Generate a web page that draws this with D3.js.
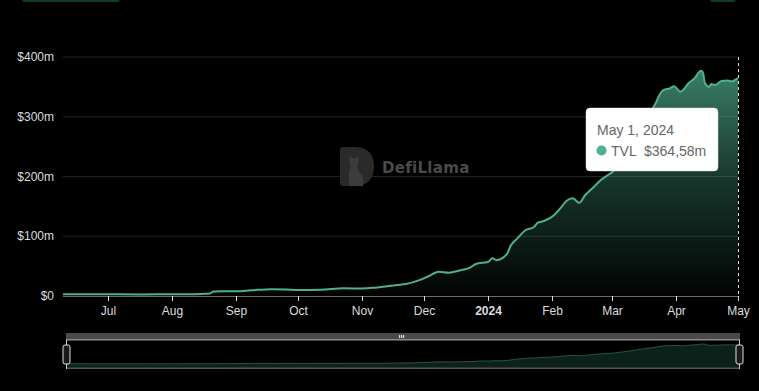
<!DOCTYPE html>
<html><head><meta charset="utf-8">
<script src="https://cdn.jsdelivr.net/npm/d3@7"></script>
<style>
html,body{margin:0;padding:0;background:#000;}
svg{display:block;font-family:"Liberation Sans",Arial,Helvetica,sans-serif;}
</style></head>
<body><svg id="c" width="759" height="391"></svg>
<script>
// ---- data ----
const dates = ["2023-06-09","2023-07-01","2023-07-17","2023-08-01","2023-08-15","2023-08-19","2023-08-21","2023-08-26","2023-09-01","2023-09-08","2023-09-18","2023-09-25","2023-10-01","2023-10-12","2023-10-23","2023-11-01","2023-11-07","2023-11-11","2023-11-18","2023-11-22","2023-11-29","2023-12-03","2023-12-08","2023-12-13","2023-12-15","2023-12-19","2023-12-23","2023-12-26","2024-01-01","2024-01-03","2024-01-05","2024-01-10","2024-01-12","2024-01-15","2024-01-19","2024-01-23","2024-01-25","2024-01-28","2024-02-02","2024-02-05","2024-02-08","2024-02-11","2024-02-14","2024-02-17","2024-02-21","2024-02-24","2024-02-28","2024-03-01","2024-03-05","2024-03-10","2024-03-15","2024-03-19","2024-03-22","2024-03-24","2024-03-26","2024-03-29","2024-03-31","2024-04-03","2024-04-04","2024-04-07","2024-04-10","2024-04-13","2024-04-14","2024-04-15","2024-04-17","2024-04-18","2024-04-20","2024-04-23","2024-04-26","2024-04-28","2024-04-30","2024-05-01"];
const tvl = [3,2.8,2.7,2.8,3.5,4,7.5,8,8,9.5,11.5,11,10,10.5,13,12.5,14,15.5,18.4,20,27,33,40.7,39,40,43.5,47,53.6,57.4,63,60,70,85,96,110,115,122.7,125.5,135.6,147,159.5,163.5,156,169,182,192.5,202.5,207,228,255,285,305,322,337,345,347.6,351,342,343.6,356,364.5,377,374,356,350,355,353,360,360.5,359,362.6,364.58];
const yTicks = [0,100,200,300,400];
const yTickLabels = ["$0","$100m","$200m","$300m","$400m"];
const xTickDates = ["2023-07-01","2023-08-01","2023-09-01","2023-10-01","2023-11-01","2023-12-01","2024-01-01","2024-02-01","2024-03-01","2024-04-01","2024-05-01"];
const xTickLabels = ["Jul","Aug","Sep","Oct","Nov","Dec","2024","Feb","Mar","Apr","May"];
const tooltipDate = "May 1, 2024";
const tooltipSeries = "TVL";
const tooltipValue = "$364,58m";

const parse = d3.utcParse("%Y-%m-%d");
const data = dates.map((d,i)=>({date:parse(d), v:tvl[i]}));

const svg = d3.select("#c");
const LINE = "#4fb08e";

// top cut-off buttons
svg.append("rect").attr("x",22).attr("y",-6).attr("width",98).attr("height",8).attr("rx",3).attr("fill","#0f3a2c");
svg.append("rect").attr("x",710).attr("y",-6).attr("width",26).attr("height",8).attr("rx",3).attr("fill","#0f3a2c");

const x = d3.scaleUtc().domain([parse("2023-06-09"), parse("2024-05-01")]).range([63,738]);
const y = d3.scaleLinear().domain([0,400]).range([296,57]);

// gridlines
svg.append("g").selectAll("line").data(yTicks.slice(1)).join("line")
  .attr("x1",63).attr("x2",738).attr("y1",d=>y(d)).attr("y2",d=>y(d))
  .attr("stroke","#222").attr("stroke-width",1);

// y labels
svg.append("g").selectAll("text").data(yTicks).join("text")
  .attr("x",54).attr("y",d=>y(d)).attr("dy","0.35em").attr("text-anchor","end")
  .attr("fill","#dcdcdc").attr("font-size",12).text((d,i)=>yTickLabels[i]);

// watermark
const wm = svg.append("g").attr("opacity",1);
wm.append("path").attr("d","M340,150 Q340,147 343,147 L354,147 Q374,147 374,166.5 Q374,186 354,186 L343,186 Q340,186 340,183 Z").attr("fill","#2a2a2a");
wm.append("path").attr("d","M349,186 L349,172 L351,166 L349,160 L350,155 L352,158 L356,158 L358,155 L359,160 L357,166 L359,172 L363,176 L363,186 Z").attr("fill","#3c3c3c");
wm.append("text").attr("x",382).attr("y",173).attr("font-size",15).attr("font-weight","bold")
  .attr("fill","#4a4a4a").attr("font-family","'DejaVu Sans',sans-serif").attr("letter-spacing","0.3").text("DefiLlama");

// gradient
const defs = svg.append("defs");
const g = defs.append("linearGradient").attr("id","ag").attr("gradientUnits","userSpaceOnUse")
  .attr("x1",0).attr("x2",0).attr("y1",y(380)).attr("y2",y(0));
g.append("stop").attr("offset","0").attr("stop-color",LINE).attr("stop-opacity",0.72);
g.append("stop").attr("offset","0.5").attr("stop-color",LINE).attr("stop-opacity",0.3);
g.append("stop").attr("offset","1").attr("stop-color",LINE).attr("stop-opacity",0.02);

const area = d3.area().x(d=>x(d.date)).y0(y(0)).y1(d=>y(d.v)).curve(d3.curveMonotoneX);
const line = d3.line().x(d=>x(d.date)).y(d=>y(d.v)).curve(d3.curveMonotoneX);
svg.append("path").datum(data).attr("d",area).attr("fill","url(#ag)");
svg.append("path").datum(data).attr("d",line).attr("fill","none").attr("stroke",LINE).attr("stroke-width",2);

// x axis
svg.append("line").attr("x1",63).attr("x2",738).attr("y1",296.5).attr("y2",296.5).attr("stroke","#6a6a6a");
const xt = svg.append("g").selectAll("g").data(xTickDates).join("g")
  .attr("transform",d=>`translate(${Math.round(x(parse(d)))+0.5},296)`);
xt.append("line").attr("y1",0).attr("y2",5).attr("stroke","#ddd");
xt.append("text").attr("y",15).attr("dy","0.35em").attr("text-anchor","middle")
  .attr("fill","#dcdcdc").attr("font-size",12)
  .attr("font-weight",(d,i)=>xTickLabels[i]==="2024"?"bold":"normal")
  .text((d,i)=>xTickLabels[i]);

// crosshair
svg.append("line").attr("x1",738.5).attr("x2",738.5).attr("y1",57).attr("y2",296)
  .attr("stroke","#ddd").attr("stroke-dasharray","3,3");

// tooltip
const tt = svg.append("g");
tt.append("rect").attr("x",586).attr("y",108).attr("width",132).attr("height",63).attr("rx",4)
  .attr("fill","#fff").attr("stroke","#ddd").attr("stroke-width",0.5);
tt.append("text").attr("x",597).attr("y",135).attr("font-size",14).attr("fill","#666").text(tooltipDate);
tt.append("circle").attr("cx",601.5).attr("cy",150.5).attr("r",5).attr("fill",LINE);
tt.append("text").attr("x",611).attr("y",155.5).attr("font-size",14).attr("fill","#666").text(tooltipSeries);
tt.append("text").attr("x",644).attr("y",155.5).attr("font-size",14).attr("fill","#666").text(tooltipValue);

// data zoom
const mx = d3.scaleUtc().domain(x.domain()).range([66,740]);
const my = d3.scaleLinear().domain([0,d3.max(tvl)]).range([364,344]);
svg.append("rect").attr("x",66).attr("y",333).attr("width",674).attr("height",7).attr("fill","#4a4a4a");
svg.append("rect").attr("x",66).attr("y",339).attr("width",674).attr("height",1.5).attr("fill","#8a8a8a");
const marea = d3.area().x(d=>mx(d.date)).y0(368).y1(d=>my(d.v)).curve(d3.curveMonotoneX);
const mline = d3.line().x(d=>mx(d.date)).y(d=>my(d.v)).curve(d3.curveMonotoneX);
svg.append("path").datum(data).attr("d",marea).attr("fill","#0d211b");
svg.append("path").datum(data).attr("d",mline).attr("fill","none").attr("stroke","#1f5646").attr("stroke-width",1);
svg.append("rect").attr("x",66).attr("y",367.5).attr("width",674).attr("height",1.5).attr("fill","#555");
// middle grip
[399,401,403].forEach(xx=>svg.append("rect").attr("x",xx).attr("y",335).attr("width",1.2).attr("height",3).attr("fill","#ddd"));
// handles
[66.5,739.5].forEach(hx=>{
  svg.append("line").attr("x1",hx).attr("x2",hx).attr("y1",340).attr("y2",369).attr("stroke","#ccc");
  svg.append("rect").attr("x",hx-3.5).attr("y",345).attr("width",7).attr("height",19).attr("rx",2)
    .attr("fill","#1a1a1a").attr("stroke","#ddd").attr("stroke-width",1);
});
</script></body></html>
